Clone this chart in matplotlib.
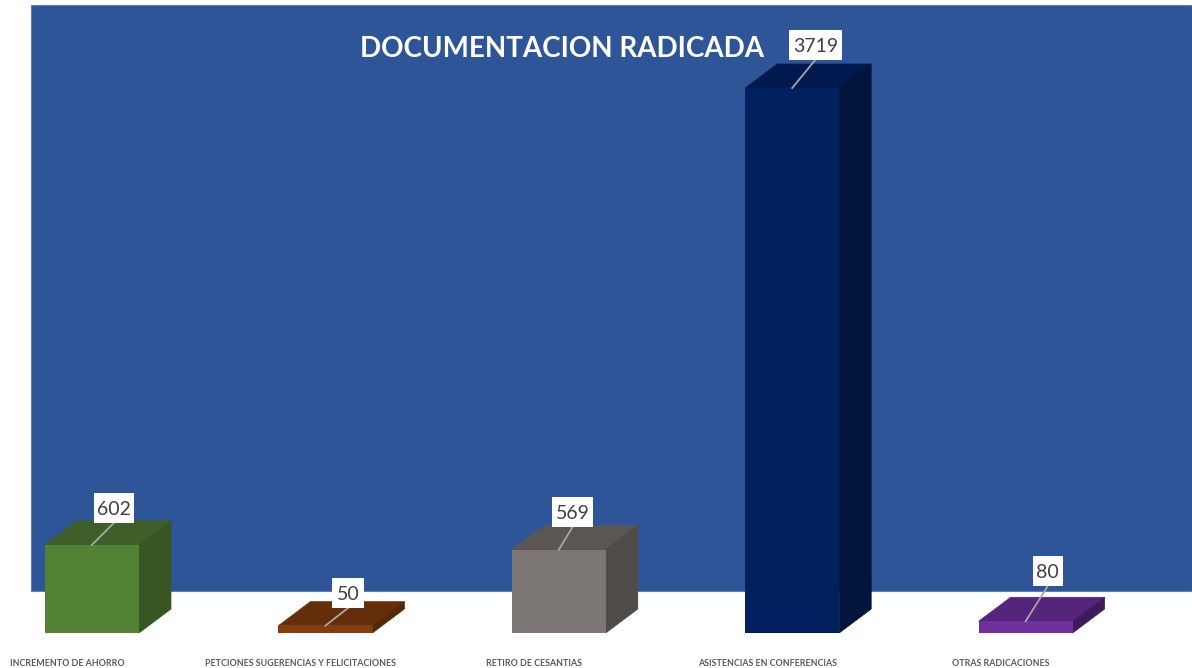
import matplotlib
matplotlib.use('Agg')
import matplotlib.pyplot as plt
from matplotlib.patches import Polygon, Rectangle

categories = ['INCREMENTO DE AHORRO', 'PETCIONES SUGERENCIAS Y FELICITACIONES',
              'RETIRO DE CESANTIAS', 'ASISTENCIAS EN CONFERENCIAS', 'OTRAS RADICACIONES']
values = [602, 50, 569, 3719, 80]
front_colors = ['#548235', '#843C0C', '#7B7674', '#002060', '#7030A0']
top_colors = ['#3F5F28', '#642E0A', '#5B5654', '#001A4F', '#54257A']
side_colors = ['#375623', '#562708', '#4F4B48', '#00143C', '#3F1B5C']
title = 'DOCUMENTACION RADICADA'

# where each label box sits relative to its bar, in pixels
label_dx = [22, 23, 14, 23, 22]
label_gap = [22, 18, 23, 28, 35]
label_w = [40, 32, 41, 53, 30]
LABEL_H = 30

W, H = 1192, 668
BASE = 633          # pixel row of the bars' base
PX_X = 233.4        # pixels per category
PX_Y = 545 / 3719   # pixels per unit
X0 = 92

plt.rcParams['font.family'] = ['Lato', 'DejaVu Sans']

fig = plt.figure(figsize=(W / 100, H / 100), dpi=100, facecolor='white')
fig.add_artist(Rectangle((31 / W, 1 - 591 / H), (W - 31) / W, 586 / H, transform=fig.transFigure,
                         facecolor='#2E5597', edgecolor='#5B7DB8', linewidth=0.8, zorder=-5))

ax = fig.add_axes([0, 1 - BASE / H, 1, BASE / H])
ax.patch.set_visible(False)
ax.set_xlim(-X0 / PX_X, (W - X0) / PX_X)
ax.set_ylim(0, BASE / PX_Y)
for s in ax.spines.values():
    s.set_visible(False)
ax.set_yticks([])

width = 94 / PX_X
dx = 32 / PX_X      # depth of the fake 3d box
dy = 24 / PX_Y
x = list(range(len(values)))

for i, v in enumerate(values):
    l, r = i - width / 2, i + width / 2
    ax.add_patch(Polygon([(l, v), (r, v), (r + dx, v + dy), (l + dx, v + dy)],
                         facecolor=top_colors[i], edgecolor=top_colors[i], lw=0.5, zorder=2))
    ax.add_patch(Polygon([(r, 0), (r + dx, dy), (r + dx, v + dy), (r, v)],
                         facecolor=side_colors[i], edgecolor=side_colors[i], lw=0.5, zorder=2))

    # label box with leader line
    lx = i + label_dx[i] / PX_X
    gap = label_gap[i] / PX_Y
    ax.plot([i, lx], [v, v + gap], color='#A6A6A6', lw=1.3, zorder=4)
    bw = label_w[i] / PX_X
    ax.add_patch(Rectangle((lx - bw / 2, v + gap), bw, LABEL_H / PX_Y, facecolor='white',
                           edgecolor='none', zorder=5))
    ax.text(lx, v + gap + LABEL_H / 2 / PX_Y, str(v), ha='center', va='center_baseline', fontsize=14,
            color='#404040', zorder=6)
ax.bar(x, values, width, color=front_colors, zorder=3)

ax.set_xticks(x)
ax.set_xticklabels([])
ax.tick_params(axis='x', length=0)
for i, c in enumerate(categories):
    ax.annotate(c, (i, 0), xytext=(-25, -30), textcoords='offset pixels', ha='center', va='center',
                fontsize=6.4, fontweight='bold', color='#595959')

fig.text(562 / W, 1 - 49 / H, title, ha='center', va='center', fontsize=20,
         fontweight='bold', color='white')

fig.savefig('out.png', dpi=100)
